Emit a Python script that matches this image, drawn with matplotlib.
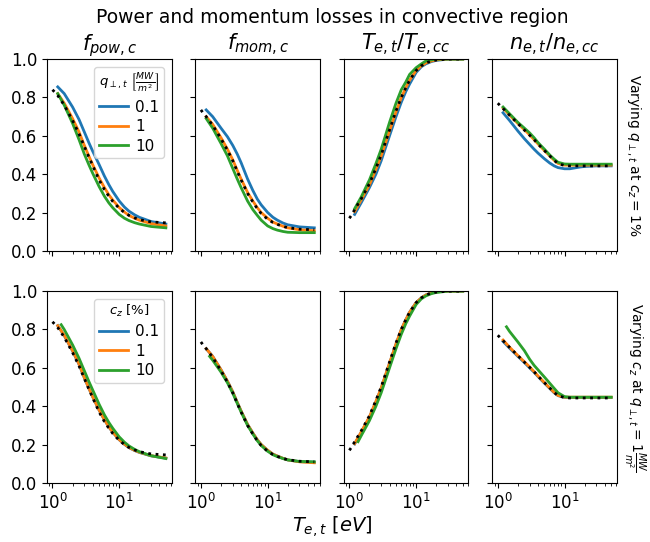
import numpy as np
import matplotlib
matplotlib.use("Agg")
import matplotlib.pyplot as plt

# ---------------- data ----------------
T_ref = [1.0, 1.1, 1.2, 1.5, 2, 2.5, 3, 3.5, 4, 5, 6, 7, 8, 10, 12, 14, 17, 20, 30, 50]
T_sim = [1.2, 1.5, 2, 2.5, 3, 3.5, 4, 5, 6, 7, 8, 10, 12, 14, 17, 20, 30, 50]
T_c10 = [1.35, 1.5, 2, 2.5, 3, 3.5, 4, 5, 6, 7, 8, 10, 12, 14, 17, 20, 30, 50]

col_titles = [r"$f_{pow,c}$", r"$f_{mom,c}$", r"$T_{e,t}/T_{e,cc}$", r"$n_{e,t}/n_{e,cc}$"]
labels_q = ["0.1", "1", "10"]
labels_c = ["0.1", "1", "10"]

# reference (black dotted) curves
ref_fpow = [0.84, 0.825, 0.81, 0.76, 0.68, 0.61, 0.545, 0.49, 0.445, 0.37, 0.32, 0.285, 0.258, 0.222, 0.2, 0.185, 0.172, 0.163, 0.151, 0.146]
ref_fmom = [0.735, 0.715, 0.70, 0.655, 0.585, 0.525, 0.47, 0.415, 0.37, 0.30, 0.255, 0.22, 0.195, 0.165, 0.148, 0.138, 0.128, 0.121, 0.113, 0.11]
ref_te = [0.17, 0.19, 0.215, 0.27, 0.35, 0.43, 0.50, 0.57, 0.63, 0.73, 0.80, 0.85, 0.89, 0.94, 0.965, 0.98, 0.99, 0.995, 1.0, 1.0]
ref_ne = [0.77, 0.755, 0.742, 0.707, 0.664, 0.63, 0.603, 0.58, 0.557, 0.523, 0.495, 0.472, 0.455, 0.445, 0.443, 0.443, 0.443, 0.443, 0.443, 0.443]

# row 1: varying q_perp,t (c_z = 1 %)
q01_fpow = [0.855, 0.82, 0.75, 0.685, 0.62, 0.565, 0.52, 0.45, 0.39, 0.345, 0.31, 0.26, 0.228, 0.207, 0.188, 0.175, 0.153, 0.14]
q1_fpow = [0.82, 0.77, 0.69, 0.62, 0.55, 0.495, 0.45, 0.38, 0.33, 0.292, 0.265, 0.226, 0.202, 0.185, 0.17, 0.16, 0.142, 0.13]
q10_fpow = [0.82, 0.76, 0.665, 0.58, 0.505, 0.45, 0.405, 0.335, 0.285, 0.25, 0.225, 0.19, 0.17, 0.158, 0.147, 0.14, 0.127, 0.12]

q01_fmom = [0.735, 0.70, 0.64, 0.595, 0.55, 0.505, 0.46, 0.375, 0.315, 0.27, 0.24, 0.20, 0.175, 0.16, 0.145, 0.136, 0.125, 0.12]
q1_fmom = [0.70, 0.66, 0.59, 0.53, 0.475, 0.42, 0.375, 0.305, 0.26, 0.225, 0.2, 0.17, 0.15, 0.14, 0.128, 0.12, 0.11, 0.105]
q10_fmom = [0.69, 0.64, 0.56, 0.495, 0.43, 0.375, 0.33, 0.26, 0.215, 0.185, 0.16, 0.13, 0.116, 0.108, 0.101, 0.097, 0.095, 0.095]

q01_te = [0.19, 0.25, 0.33, 0.40, 0.47, 0.54, 0.60, 0.70, 0.775, 0.83, 0.87, 0.93, 0.96, 0.975, 0.987, 0.993, 1.0, 1.0]
q1_te = [0.205, 0.265, 0.345, 0.425, 0.495, 0.565, 0.625, 0.725, 0.80, 0.85, 0.89, 0.94, 0.965, 0.98, 0.99, 0.996, 1.0, 1.0]
q10_te = [0.22, 0.28, 0.37, 0.455, 0.53, 0.605, 0.67, 0.77, 0.84, 0.88, 0.92, 0.955, 0.975, 0.99, 0.996, 1.0, 1.0, 1.0]

q01_ne = [0.72, 0.68, 0.625, 0.585, 0.555, 0.53, 0.51, 0.48, 0.458, 0.443, 0.434, 0.428, 0.428, 0.432, 0.437, 0.44, 0.443, 0.443]
q1_ne = [0.745, 0.708, 0.664, 0.632, 0.605, 0.58, 0.558, 0.523, 0.495, 0.472, 0.456, 0.447, 0.447, 0.447, 0.447, 0.447, 0.447, 0.447]
q10_ne = [0.75, 0.715, 0.67, 0.64, 0.615, 0.59, 0.565, 0.53, 0.50, 0.478, 0.462, 0.453, 0.452, 0.452, 0.452, 0.452, 0.452, 0.452]

# row 2: varying c_z (q_perp,t = 1 MW/m^2)
c01_fpow = [0.82, 0.768, 0.688, 0.618, 0.548, 0.494, 0.449, 0.379, 0.329, 0.291, 0.264, 0.225, 0.201, 0.184, 0.169, 0.159, 0.141, 0.129]
c1_fpow = [0.82, 0.77, 0.69, 0.62, 0.55, 0.495, 0.45, 0.38, 0.33, 0.292, 0.265, 0.226, 0.202, 0.185, 0.17, 0.16, 0.142, 0.13]
c10_fpow = [0.825, 0.80, 0.72, 0.65, 0.585, 0.53, 0.485, 0.41, 0.355, 0.315, 0.285, 0.24, 0.212, 0.193, 0.175, 0.163, 0.142, 0.127]

c01_fmom = [0.70, 0.66, 0.59, 0.53, 0.475, 0.42, 0.375, 0.305, 0.26, 0.225, 0.2, 0.17, 0.15, 0.14, 0.128, 0.12, 0.111, 0.108]
c1_fmom = [0.70, 0.66, 0.59, 0.53, 0.475, 0.42, 0.375, 0.305, 0.26, 0.225, 0.2, 0.17, 0.15, 0.14, 0.128, 0.12, 0.11, 0.105]
c10_fmom = [0.66, 0.64, 0.578, 0.522, 0.468, 0.415, 0.37, 0.30, 0.255, 0.22, 0.195, 0.165, 0.147, 0.137, 0.127, 0.12, 0.112, 0.11]

c01_te = [0.203, 0.263, 0.343, 0.423, 0.493, 0.563, 0.623, 0.723, 0.80, 0.85, 0.89, 0.94, 0.965, 0.98, 0.99, 0.996, 1.0, 1.0]
c1_te = [0.205, 0.265, 0.345, 0.425, 0.495, 0.565, 0.625, 0.725, 0.80, 0.85, 0.89, 0.94, 0.965, 0.98, 0.99, 0.996, 1.0, 1.0]
c10_te = [0.215, 0.245, 0.325, 0.40, 0.47, 0.54, 0.60, 0.70, 0.775, 0.83, 0.87, 0.93, 0.96, 0.975, 0.987, 0.993, 1.0, 1.0]

c01_ne = [0.738, 0.703, 0.66, 0.628, 0.60, 0.577, 0.555, 0.52, 0.493, 0.47, 0.455, 0.446, 0.446, 0.446, 0.446, 0.446, 0.446, 0.446]
c1_ne = [0.745, 0.708, 0.664, 0.632, 0.605, 0.58, 0.558, 0.523, 0.495, 0.472, 0.456, 0.447, 0.447, 0.447, 0.447, 0.447, 0.447, 0.447]
c10_ne = [0.814, 0.79, 0.735, 0.69, 0.645, 0.613, 0.59, 0.552, 0.52, 0.493, 0.47, 0.45, 0.447, 0.447, 0.447, 0.447, 0.447, 0.447]

refs = [ref_fpow, ref_fmom, ref_te, ref_ne]
row_q = [[q01_fpow, q1_fpow, q10_fpow], [q01_fmom, q1_fmom, q10_fmom],
         [q01_te, q1_te, q10_te], [q01_ne, q1_ne, q10_ne]]
row_c = [[c01_fpow, c1_fpow, c10_fpow], [c01_fmom, c1_fmom, c10_fmom],
         [c01_te, c1_te, c10_te], [c01_ne, c1_ne, c10_ne]]

colors = ["#1f77b4", "#ff7f0e", "#2ca02c"]

fig, axes = plt.subplots(2, 4, figsize=(6.5, 5.42), dpi=100, sharex=True, sharey=True)
fig.subplots_adjust(left=0.072, right=0.949, top=0.891, bottom=0.109, wspace=0.19, hspace=0.21)

for j in range(4):
    for i, (rowdata, Ts) in enumerate([(row_q, [T_sim, T_sim, T_sim]),
                                       (row_c, [T_sim, T_sim, T_c10])]):
        ax = axes[i, j]
        labs = labels_q if i == 0 else labels_c
        for k in range(3):
            ax.plot(Ts[k], rowdata[j][k], color=colors[k], lw=2, label=labs[k])
        ax.plot(T_ref, refs[j], color="black", ls=":", lw=2)
        ax.set_xscale("log")
        ax.set_ylim(0, 1.0)
        ax.tick_params(labelsize=12)
    axes[0, j].set_title(col_titles[j], fontsize=15)

leg_kw = dict(fontsize=11, title_fontsize=9.5, loc="upper right", handlelength=1.9,
              borderpad=0.3, labelspacing=0.3, handletextpad=0.5)
axes[0, 0].legend(title=r"$q_{\perp,t}\ \left[\frac{MW}{m^2}\right]$", **leg_kw)
axes[1, 0].legend(title=r"$c_z$ [%]", **leg_kw)

fig.suptitle("Power and momentum losses in convective region", x=0.511, y=0.985, fontsize=13.5)
fig.text(0.511, 0.028, r"$T_{e,t}$ $[eV]$", ha="center", va="center", fontsize=14)
fig.text(0.976, 0.714, r"Varying $q_{\perp,t}$ at $c_z = 1\%$", rotation=270,
         ha="center", va="center", fontsize=10)
fig.text(0.976, 0.286, r"Varying $c_z$ at $q_{\perp,t} = 1\frac{MW}{m^2}$", rotation=270,
         ha="center", va="center", fontsize=10)

fig.savefig("out.png", dpi=100)
